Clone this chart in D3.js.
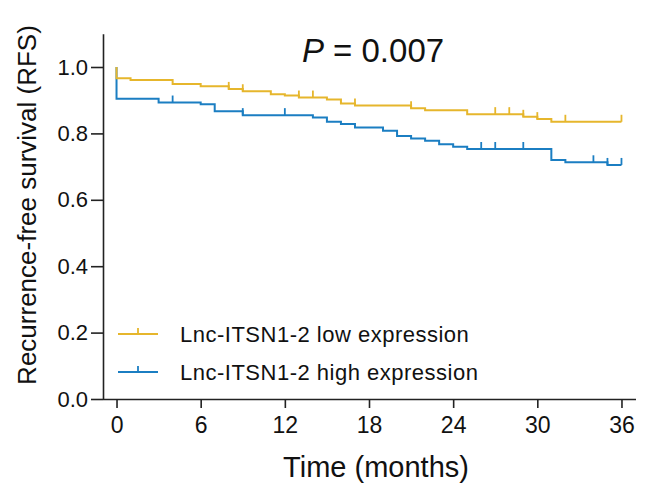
<!DOCTYPE html>
<html>
<head>
<meta charset="utf-8">
<script src="https://cdn.jsdelivr.net/npm/d3@7"></script>
<style>
  body { margin: 0; background: #fff; }
  text { font-family: "Liberation Sans", Arial, sans-serif; }
</style>
</head>
<body>
<script>
// step data: [month, survival]
var lowSteps = [[0, 1.0], [0, 0.966], [1, 0.961], [4, 0.949], [6, 0.942], [8, 0.934], [9, 0.927],
    [11, 0.918], [12, 0.914], [13, 0.908], [15, 0.902], [16, 0.890], [17, 0.884], [21, 0.876],
    [22, 0.870], [25, 0.858], [29, 0.850], [30, 0.843], [31, 0.835]];
var highSteps = [[0, 1.0], [0, 0.904], [3, 0.893], [6, 0.888], [7, 0.867], [9, 0.855], [14, 0.848],
    [15, 0.835], [16, 0.828], [17, 0.818], [19, 0.808], [20, 0.792], [21, 0.785], [22, 0.778],
    [23, 0.767], [24, 0.760], [25, 0.753], [31, 0.720], [32, 0.713], [35, 0.705]];
var lowCensor = [8, 9, 13, 14, 17, 21, 27, 28, 29, 30, 32, 36];
var highCensor = [4, 9, 12, 26, 27, 29, 34, 35, 36];
var endTime = 36;
var xTicks = [0, 6, 12, 18, 24, 30, 36];
var yTicks = [0, 0.2, 0.4, 0.6, 0.8, 1.0];
var groups = ["Lnc-ITSN1-2 low expression", "Lnc-ITSN1-2 high expression"];
var colors = ["#E6B62C", "#1B7EC2"];

var width = 646, height = 485;

var svg = d3.select("body")
    .append("svg")
    .attr("width", width)
    .attr("height", height);

var x = d3.scaleLinear()
    .domain([-1, 37])
    .range([102.5, 635.5]);

var y = d3.scaleLinear()
    .domain([0, 1.1])
    .range([399, 33.8]);

function survAt(steps, t) {
    var s = steps[0][1];
    steps.forEach(function (d) {
        if (d[0] <= t) s = d[1];
    });
    return s;
}

function stepPath(steps) {
    var pts = steps.slice();
    pts.push([endTime, steps[steps.length - 1][1]]);
    var line = d3.line()
        .x(function (d) { return x(d[0]); })
        .y(function (d) { return y(d[1]); })
        .curve(d3.curveStepAfter);
    return line(pts);
}

// axes
var xAxis = d3.axisBottom(x).tickValues(xTicks).tickSize(9).tickPadding(9).tickSizeOuter(0);
var yAxis = d3.axisLeft(y).tickValues(yTicks).tickSize(12).tickPadding(3)
    .tickFormat(d3.format(".1f")).tickSizeOuter(0);

var gx = svg.append("g")
    .attr("transform", "translate(0,399)")
    .call(xAxis);
var gy = svg.append("g")
    .attr("transform", "translate(103,0)")
    .call(yAxis);

[gx, gy].forEach(function (g) {
    g.select(".domain").attr("stroke", "#222").attr("stroke-width", 1.6);
    g.selectAll(".tick line").attr("stroke", "#222").attr("stroke-width", 1.6);
    g.selectAll(".tick text").attr("fill", "#111");
});
gx.selectAll(".tick text").style("font-size", "23px");
gy.selectAll(".tick text").style("font-size", "22px");
gx.select(".domain").attr("d", "M103,0.5H636");

// curves: draw high first so low sits on top
var series = [
    {steps: highSteps, censor: highCensor, color: colors[1]},
    {steps: lowSteps, censor: lowCensor, color: colors[0]}
];

series.forEach(function (s) {
    svg.append("path")
        .attr("d", stepPath(s.steps))
        .attr("fill", "none")
        .attr("stroke", s.color)
        .attr("stroke-width", 2);

    svg.selectAll(null)
        .data(s.censor)
        .enter()
        .append("line")
        .attr("x1", function (d) { return x(d); })
        .attr("x2", function (d) { return x(d); })
        .attr("y1", function (d) { return y(survAt(s.steps, d)); })
        .attr("y2", function (d) { return y(survAt(s.steps, d)) - 7; })
        .attr("stroke", s.color)
        .attr("stroke-width", 1.8);
});

// legend
groups.forEach(function (name, i) {
    var ly = 334 + i * 38;
    svg.append("line")
        .attr("x1", 118).attr("x2", 158)
        .attr("y1", ly).attr("y2", ly)
        .attr("stroke", colors[i]).attr("stroke-width", 2);
    svg.append("line")
        .attr("x1", 138).attr("x2", 138)
        .attr("y1", ly).attr("y2", ly - 6)
        .attr("stroke", colors[i]).attr("stroke-width", 1.8);
    svg.append("text")
        .attr("x", 180)
        .attr("y", ly + 8)
        .attr("fill", "#111")
        .style("font-size", "22px")
        .style("letter-spacing", "0.5px")
        .text(name);
});

// p value
var pt = svg.append("text")
    .attr("x", 373)
    .attr("y", 62)
    .attr("text-anchor", "middle")
    .attr("fill", "#111")
    .style("font-size", "33px");
pt.append("tspan").style("font-style", "italic").text("P");
pt.append("tspan").text(" = 0.007");

// axis titles
svg.append("text")
    .attr("x", 376)
    .attr("y", 477)
    .attr("text-anchor", "middle")
    .attr("fill", "#111")
    .style("font-size", "29px")
    .text("Time (months)");

svg.append("text")
    .attr("transform", "translate(36,205) rotate(-90)")
    .attr("text-anchor", "middle")
    .attr("fill", "#111")
    .style("font-size", "26px")
    .text("Recurrence-free survival (RFS)");
</script>
</body>
</html>
